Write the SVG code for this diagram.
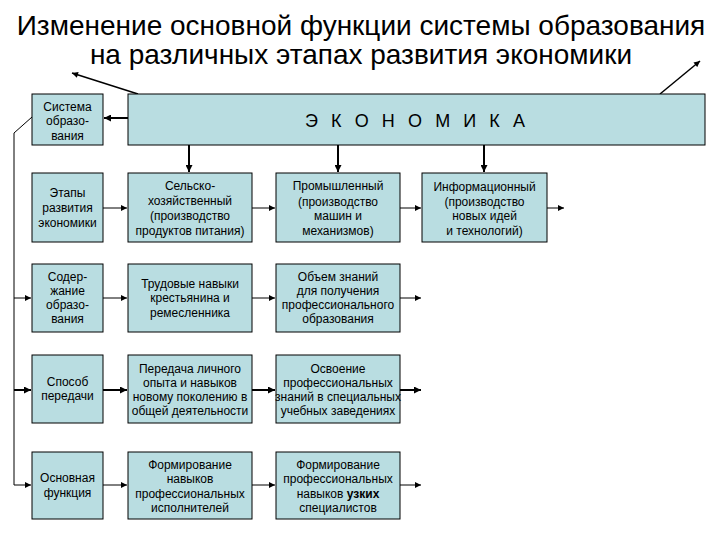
<svg xmlns="http://www.w3.org/2000/svg" width="720" height="540" viewBox="0 0 720 540">
<defs>
<marker id="ah" viewBox="0 0 10 10" refX="10" refY="5" markerWidth="7" markerHeight="6" markerUnits="userSpaceOnUse" orient="auto"><path d="M0,0 L10,5 L0,10 z" fill="#000"/></marker>
<marker id="ahb" viewBox="0 0 10 10" refX="10" refY="5" markerWidth="8" markerHeight="7" markerUnits="userSpaceOnUse" orient="auto"><path d="M0,0 L10,5 L0,10 z" fill="#000"/></marker>
<style>
.box{fill:#B9DDE1;stroke:#000;stroke-width:1}
.t{font-family:"Liberation Sans",Arial,sans-serif;font-size:12px;fill:#000;text-anchor:middle}
.title{font-family:"Liberation Sans",Arial,sans-serif;font-size:28px;fill:#000;text-anchor:middle}
.c{stroke:#000;stroke-width:1;fill:none;marker-end:url(#ah)}
.cb{stroke:#000;stroke-width:2;fill:none;marker-end:url(#ahb)}
.l{stroke:#000;stroke-width:1;fill:none}
</style>
</defs>
<rect width="720" height="540" fill="#fff"/>
<g id="title">
<text class="title" x="361" y="35">Изменение основной функции системы образования</text>
<text class="title" x="361" y="64">на различных этапах развития экономики</text>
</g>
<g id="connectors">
<line class="c" x1="138" y1="94" x2="72" y2="73" style="stroke-width:1.5"/>
<line class="c" x1="660" y1="94" x2="700" y2="61" style="stroke-width:1.5"/>
<line class="cb" x1="128" y1="118" x2="104" y2="118"/>
<line class="cb" x1="189" y1="145" x2="189" y2="172"/>
<line class="cb" x1="338" y1="145" x2="338" y2="172"/>
<line class="cb" x1="484" y1="145" x2="484" y2="172"/>
<polyline class="l" points="32,117 14,133 14,485"/>
<line class="c" x1="103" y1="208" x2="127" y2="208"/>
<line class="c" x1="252" y1="208" x2="275" y2="208"/>
<line class="c" x1="400" y1="208" x2="421" y2="208"/>
<line class="c" x1="547" y1="208" x2="564" y2="208"/>
<line class="c" x1="14" y1="298" x2="31" y2="298"/>
<line class="c" x1="103" y1="298" x2="127" y2="298"/>
<line class="c" x1="252" y1="298" x2="275" y2="298"/>
<line class="c" x1="400" y1="298" x2="421" y2="298"/>
<line class="cb" x1="14" y1="390" x2="31" y2="390"/>
<line class="cb" x1="103" y1="390" x2="127" y2="390"/>
<line class="cb" x1="252" y1="390" x2="275" y2="390"/>
<line class="cb" x1="400" y1="390" x2="421" y2="390"/>
<line class="c" x1="14" y1="485" x2="31" y2="485"/>
<line class="c" x1="103" y1="485" x2="127" y2="485"/>
<line class="c" x1="252" y1="485" x2="275" y2="485"/>
<line class="c" x1="400" y1="485" x2="421" y2="485"/>
</g>
<g id="economy">
<rect class="box" x="128" y="94" width="577" height="51"/>
<text x="305" y="127" textLength="220" lengthAdjust="spacing" style="font-family:'Liberation Sans',Arial,sans-serif;font-size:18px">Э К О Н О М И К А</text>
</g>
<g id="system">
<rect class="box" x="32" y="94" width="71" height="51"/>
<text class="t" x="67.5" y="111">Система</text>
<text class="t" x="67.5" y="125">образо-</text>
<text class="t" x="67.5" y="140">вания</text>
</g>
<g id="stages">
<rect class="box" x="32" y="173" width="71" height="69"/>
<text class="t" x="67.5" y="197">Этапы</text>
<text class="t" x="67.5" y="212">развития</text>
<text class="t" x="67.5" y="227">экономики</text>
</g>
<g id="agri">
<rect class="box" x="128" y="173" width="124" height="69"/>
<text class="t" x="190" y="190">Сельско-</text>
<text class="t" x="190" y="205">хозяйственный</text>
<text class="t" x="190" y="220">(производство</text>
<text class="t" x="190" y="235">продуктов питания)</text>
</g>
<g id="industrial">
<rect class="box" x="276" y="173" width="124" height="69"/>
<text class="t" x="338" y="190">Промышленный</text>
<text class="t" x="338" y="206">(производство</text>
<text class="t" x="338" y="220">машин и</text>
<text class="t" x="338" y="235">механизмов)</text>
</g>
<g id="info">
<rect class="box" x="422" y="173" width="125" height="69"/>
<text class="t" x="484.5" y="191">Информационный</text>
<text class="t" x="484.5" y="206">(производство</text>
<text class="t" x="484.5" y="220">новых идей</text>
<text class="t" x="484.5" y="235">и технологий)</text>
</g>
<g id="content">
<rect class="box" x="32" y="264" width="71" height="68"/>
<text class="t" x="67.5" y="281">Содер-</text>
<text class="t" x="67.5" y="295">жание</text>
<text class="t" x="67.5" y="309">образо-</text>
<text class="t" x="67.5" y="323">вания</text>
</g>
<g id="labor">
<rect class="box" x="128" y="264" width="124" height="68"/>
<text class="t" x="190" y="288">Трудовые навыки</text>
<text class="t" x="190" y="302">крестьянина и</text>
<text class="t" x="190" y="317">ремесленника</text>
</g>
<g id="knowledge">
<rect class="box" x="276" y="264" width="124" height="68"/>
<text class="t" x="338" y="281">Объем знаний</text>
<text class="t" x="338" y="295">для получения</text>
<text class="t" x="338" y="309">профессионального</text>
<text class="t" x="338" y="323">образования</text>
</g>
<g id="method">
<rect class="box" x="32" y="355" width="71" height="68"/>
<text class="t" x="67.5" y="386">Способ</text>
<text class="t" x="67.5" y="400">передачи</text>
</g>
<g id="transfer">
<rect class="box" x="128" y="355" width="124" height="68"/>
<text class="t" x="190" y="373">Передача личного</text>
<text class="t" x="190" y="387">опыта и навыков</text>
<text class="t" x="190" y="401">новому поколению в</text>
<text class="t" x="190" y="415">общей деятельности</text>
</g>
<g id="mastery">
<rect class="box" x="276" y="355" width="124" height="68"/>
<text class="t" x="338" y="373">Освоение</text>
<text class="t" x="338" y="387">профессиональных</text>
<text class="t" x="338" y="401">знаний в специальных</text>
<text class="t" x="338" y="415">учебных заведениях</text>
</g>
<g id="function">
<rect class="box" x="32" y="452" width="71" height="67"/>
<text class="t" x="67.5" y="482">Основная</text>
<text class="t" x="67.5" y="497">функция</text>
</g>
<g id="forming1">
<rect class="box" x="128" y="452" width="124" height="67"/>
<text class="t" x="190" y="469">Формирование</text>
<text class="t" x="190" y="483">навыков</text>
<text class="t" x="190" y="498">профессиональных</text>
<text class="t" x="190" y="512">исполнителей</text>
</g>
<g id="forming2">
<rect class="box" x="276" y="452" width="124" height="67"/>
<text class="t" x="338" y="469">Формирование</text>
<text class="t" x="338" y="483">профессиональных</text>
<text class="t" x="338" y="498">навыков <tspan font-weight="bold">узких</tspan></text>
<text class="t" x="338" y="512">специалистов</text>
</g>
</svg>
